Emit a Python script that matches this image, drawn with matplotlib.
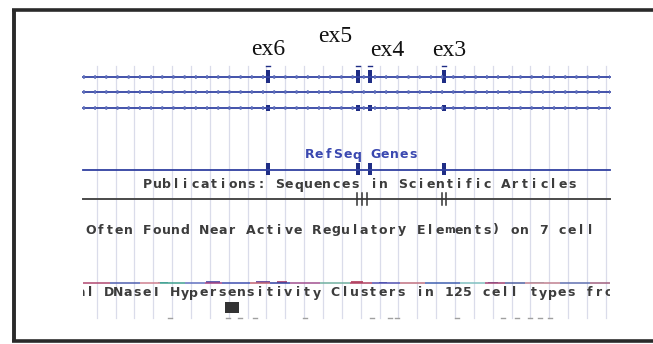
import numpy as np
import matplotlib
matplotlib.use('Agg')
import matplotlib.pyplot as plt
from matplotlib.patches import Rectangle
from matplotlib.transforms import Bbox, TransformedBbox

# Exon positions (screen x of the browser window) and labels
exon_x = [268, 358, 370, 444]
exon_labels = ['ex6', 'ex5', 'ex4', 'ex3']
label_x = [268, 335, 387, 449]
label_base = [55, 42, 56, 56]

# Track extent
track_start, track_end = 83, 610

# Publications hits
pub_hits = [357, 362, 367, 442, 446]

# DNase cluster signal: segment colour changes along the line and small bumps
dnase_breaks = [83, 110, 140, 160, 185, 205, 222, 250, 270, 290, 320, 350, 372,
                400, 425, 460, 485, 505, 525, 560, 590, 610]
dnase_cols = ['#b04870', '#5060b0', '#d08090', '#40a090', '#6070c0', '#a04080',
              '#4050b0', '#c06070', '#3040a0', '#a05090', '#70b0a0', '#b04060',
              '#5050b0', '#c07080', '#4060b0', '#80c0c0', '#a04070', '#5060a0',
              '#c08090', '#6070b0', '#a06080']
dnase_bumps = [(163, 10, 1.5, '#40a0a0'), (213, 14, 2.5, '#4040a0'), (263, 14, 2.2, '#503090'),
               (282, 10, 2.0, '#a03060'), (357, 12, 1.8, '#b03050'), (383, 8, 1.2, '#3040a0'),
               (493, 10, 1.3, '#4060b0'), (537, 14, 1.5, '#80c8c8')]

# Small marks under the DNase track
bottom_marks = [170, 228, 240, 255, 305, 372, 390, 397, 457, 503, 517, 530, 540, 550]

# Black block in the DNase track
block = (225, 302, 14, 11)

track_texts = [
    ('RefSeq Genes', 305, 155, '#3a48b0'),
    ('Publications: Sequences in Scientific Articles', 143, 185, '#3c3c3c'),
    ('Often Found Near Active Regulatory Elements) on 7 cell', 86, 230, '#3c3c3c'),
    ('al DNaseI Hypersensitivity Clusters in 125 cell types fro', 76, 293, '#3c3c3c'),
]

pitch = 9.43
grid_x = np.arange(96.7, track_end, 18.86)


def pixel_text(ax, s, x0, y, color, clipbox):
    # browser font: fixed character pitch, wide glyphs squeezed into the cell
    for i, ch in enumerate(s):
        if ch == ' ':
            continue
        cx = x0 + i * pitch + pitch / 2
        fs = 7.6 if ch in 'mMwW' else 9.0
        t = ax.text(cx, y, ch, ha='center', va='center', fontsize=fs,
                    family='DejaVu Sans', fontweight='bold', color=color)
        t.set_clip_box(clipbox)
        t.set_clip_on(True)


fig = plt.figure(figsize=(6.53, 3.44), dpi=100)
ax = fig.add_axes([0, 0, 1, 1])
ax.set_xlim(0, 653)
ax.set_ylim(344, 0)
ax.axis('off')

clipbox = TransformedBbox(Bbox([[track_start, 0], [track_end, 344]]), ax.transData)

# frame
ax.plot([13.5, 13.5], [9, 341], color='#2a2a2a', lw=2.8, solid_capstyle='butt')
ax.plot([12, 653], [9.5, 9.5], color='#2a2a2a', lw=2.6, solid_capstyle='butt')
ax.plot([12, 653], [340.5, 340.5], color='#2a2a2a', lw=2.6, solid_capstyle='butt')

# grid
for gx in grid_x:
    ax.plot([gx, gx], [66, 318], color='#dadcea', lw=0.9, zorder=0)

# transcripts
for ty in [77, 92, 108]:
    ax.plot([track_start, track_end], [ty, ty], color='#3444a4', lw=1.3)
    ax.plot([track_start, track_end], [ty, ty], color='#6070bc', lw=2.6,
            dashes=(0.5, 2.6))

for ex in exon_x:
    ax.add_patch(Rectangle((ex - 2.2, 70), 4.4, 13, color='#1f2d85', lw=0))
    ax.plot([ex - 2, ex + 2], [66, 66], color='#1f2d85', lw=1.0)
    ax.add_patch(Rectangle((ex - 2.4, 105), 4.8, 6, color='#1f2d85', lw=0))
    ax.add_patch(Rectangle((ex - 2.2, 163), 4.4, 12, color='#1f2d85', lw=0))

for lab, lx, ly in zip(exon_labels, label_x, label_base):
    ax.text(lx, ly, lab, ha='center', va='baseline', fontsize=17,
            family='Liberation Serif', color='#111111')

# RefSeq line
ax.plot([track_start, track_end], [170, 170], color='#3040a0', lw=1.3)

# Publications line
ax.plot([track_start, track_end], [199, 199], color='#4a4a4a', lw=1.4)
for px in pub_hits:
    ax.plot([px, px], [193, 205], color='#333333', lw=1.1)

# DNase signal
for a, b, c in zip(dnase_breaks[:-1], dnase_breaks[1:], dnase_cols):
    ax.plot([a, b], [283, 283], color=c, lw=1.1, solid_capstyle='butt')
for bx, bw, bh, bc in dnase_bumps:
    ax.add_patch(Rectangle((bx - bw / 2, 283 - bh), bw, bh, color=bc, lw=0, alpha=0.8))

ax.add_patch(Rectangle((block[0], block[1]), block[2], block[3], color='#333333', lw=0))
for mx in bottom_marks:
    ax.plot([mx - 2, mx + 2], [318, 318], color='#a0a0a0', lw=1.0)

for s, x0, y, c in track_texts:
    pixel_text(ax, s, x0, y, c, clipbox)

fig.savefig('out.png', dpi=100)
